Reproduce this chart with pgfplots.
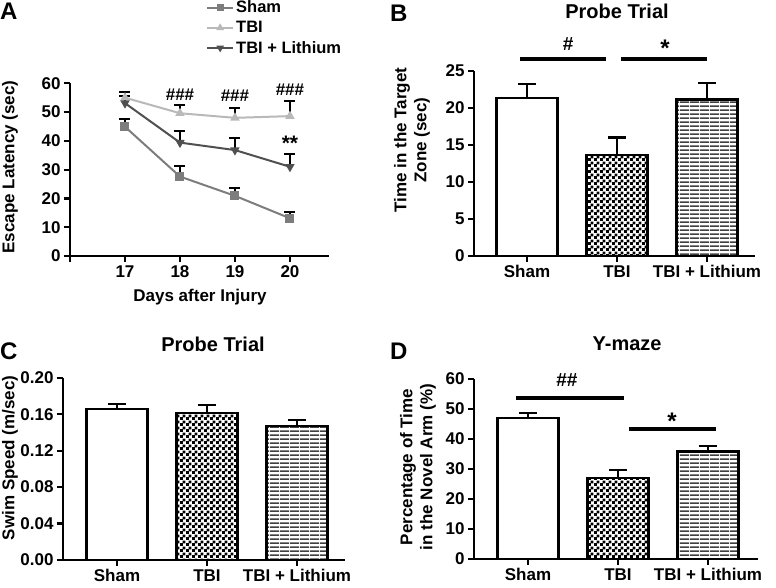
\documentclass[border=0pt]{standalone}
\usepackage{fontspec}
\setmainfont{Liberation Sans}
\usepackage{pgfplots}
\pgfplotsset{compat=1.18}
\usetikzlibrary{patterns}
\pgfdeclarepatternformonly{checker}{\pgfpointorigin}{\pgfqpoint{6pt}{6pt}}{\pgfqpoint{6pt}{6pt}}{%
  \pgfpathrectangle{\pgfpointorigin}{\pgfqpoint{3.3pt}{3.3pt}}%
  \pgfpathrectangle{\pgfqpoint{3pt}{3pt}}{\pgfqpoint{3.3pt}{3.3pt}}%
  \pgfusepath{fill}}
\pgfdeclarepatternformonly{hlines}{\pgfpointorigin}{\pgfqpoint{10pt}{4pt}}{\pgfqpoint{10pt}{4pt}}{%
  \pgfpathrectangle{\pgfpointorigin}{\pgfqpoint{10pt}{2pt}}%
  \pgfusepath{fill}}
\definecolor{shamc}{RGB}{125,125,125}
\definecolor{tbic}{RGB}{185,185,185}
\definecolor{lic}{RGB}{80,80,80}
\pgfplotsset{
  panel/.style={
    scale only axis,
    axis lines*=left,
    axis line style={line width=2.3pt},
    every tick/.style={line width=2.2pt, black},
    major tick length=6pt,
    tick align=outside,
    enlargelimits=false,
    tick label style={font=\fontsize{17}{19}\selectfont\bfseries},
    /pgf/number format/assume math mode=true,
    label style={font=\fontsize{17}{20}\selectfont\bfseries},
    title style={font=\fontsize{20}{22}\selectfont\bfseries},
    clip=false,
  },
  barpanel/.style={
    panel,
    xtick={0,1,2},
    xticklabels={Sham,TBI,TBI + Lithium},
    ybar, bar width=0.68, bar shift=0pt,
  },
  bars/.style={draw=black, line width=2.3pt,
    error bars/y dir=plus, error bars/y explicit,
    error bars/error bar style={line width=2.2pt, black},
    error bars/error mark options={rotate=90, line width=2.2pt, black, mark size=9pt}},
  lineplot/.style={line width=2pt, mark size=3.5pt,
    error bars/y dir=plus, error bars/y explicit,
    error bars/error bar style={line width=2pt, black, solid},
    error bars/error mark options={rotate=90, line width=2pt, black, mark size=5.5pt}},
}
\newcommand{\sig}{\fontsize{17}{19}\selectfont\bfseries}
\newcommand{\bigstar}{\fontsize{24}{24}\selectfont\bfseries}
\begin{document}
\begin{tikzpicture}
\path[use as bounding box] (0pt,0pt) rectangle (776pt,587pt);
% Panel letters
\node[anchor=north west, inner sep=0pt, font=\fontsize{24}{26}\selectfont\bfseries] at (0pt,584pt) {A};
\node[anchor=north west, inner sep=0pt, font=\fontsize{24}{26}\selectfont\bfseries] at (390pt,582pt) {B};
\node[anchor=north west, inner sep=0pt, font=\fontsize{24}{26}\selectfont\bfseries] at (0pt,244pt) {C};
\node[anchor=north west, inner sep=0pt, font=\fontsize{24}{26}\selectfont\bfseries] at (390pt,244pt) {D};

% Panel A
\begin{axis}[panel,
  at={(70pt,331pt)}, anchor=south west,
  width=259pt, height=172.7pt,
  xmin=16, xmax=20.71, ymin=0, ymax=60,
  xtick={16,17,18,19,20}, xticklabels={,17,18,19,20},
  ytick={0,10,...,60},
  ylabel={Escape Latency (sec)},
  ylabel style={at={(axis description cs:-0.232,0.515)}, anchor=center},
  xlabel={Days after Injury},
  xlabel style={at={(axis description cs:0.502,-0.237)}, anchor=center},
  legend style={at={(axis description cs:0.525,1.49)}, anchor=north west, draw=none, fill=none,
    font=\fontsize{16.5}{18}\selectfont\bfseries,
    nodes={font=\fontsize{16.5}{18}\selectfont\bfseries},
    row sep=3pt, inner sep=0pt},
  legend cell align=left,
  legend image code/.code={\draw[mark repeat=2,mark phase=2,#1,mark size=2.5pt] plot coordinates {(0pt,0pt) (13pt,0pt) (26pt,0pt)};},
]
\addplot[lineplot, shamc, mark=square*] coordinates {
  (17,44.9) +- (0,2.6) (18,27.6) +- (0,3.8) (19,20.9) +- (0,2.8) (20,13.1) +- (0,2.3)};
\addplot[lineplot, tbic, mark=triangle*] coordinates {
  (17,55.0) +- (0,2.1) (18,49.6) +- (0,2.9) (19,48.0) +- (0,3.5) (20,48.6) +- (0,5.3)};
\addplot[lineplot, lic, mark=triangle*, mark options={rotate=180}] coordinates {
  (17,53.1) +- (0,2.5) (18,39.4) +- (0,4.0) (19,36.8) +- (0,4.3) (20,31.0) +- (0,4.3)};
\legend{Sham,TBI,TBI + Lithium}
\node[font=\sig] at (axis cs:18,56.2) {\#\#\#};
\node[font=\sig] at (axis cs:19,55.7) {\#\#\#};
\node[font=\sig] at (axis cs:20,57.6) {\#\#\#};
\node[font=\fontsize{21}{21}\selectfont\bfseries] at (axis cs:20,39.0) {**};
\end{axis}

% Panel B
\begin{axis}[barpanel,
  at={(474pt,331pt)}, anchor=south west,
  width=281pt, height=185.3pt,
  xmin=-0.589, xmax=2.533, ymin=0, ymax=25,
  ytick={0,5,...,25},
  ylabel={Time in the Target\\Zone (sec)},
  ylabel style={at={(axis description cs:-0.221,0.626)}, anchor=center, align=center},
  title={Probe Trial},
  title style={at={(axis description cs:0.509,1.29)}, anchor=center},
]
\addplot[bars, fill=white] coordinates {(0,21.27) +- (0,1.89)};
\addplot[bars, pattern=checker, pattern color=black] coordinates {(1,13.58) +- (0,2.42)};
\addplot[bars, pattern=hlines, pattern color=black!75] coordinates {(2,21.13) +- (0,2.16)};
\draw[line width=3.8pt] (axis cs:-0.078,26.6) -- (axis cs:0.878,26.6);
\draw[line width=3.8pt] (axis cs:1.044,26.6) -- (axis cs:2.0,26.6);
\node[font=\fontsize{19}{19}\selectfont\bfseries] at (axis cs:0.456,28.6) {\#};
\node[font=\bigstar] at (axis cs:1.533,28.0) {*};
\end{axis}

% Panel C
\begin{axis}[barpanel,
  at={(63pt,27pt)}, anchor=south west,
  width=282pt, height=182.3pt,
  xmin=-0.6, xmax=2.533, ymin=0, ymax=0.2,
  ytick={0,0.04,0.08,0.12,0.16,0.2},
  yticklabel style={/pgf/number format/.cd, fixed, fixed zerofill, precision=2},
  ylabel={Swim Speed (m/sec)},
  ylabel style={at={(axis description cs:-0.188,0.56)}, anchor=center},
  title={Probe Trial},
  title style={at={(axis description cs:0.532,1.152)}, anchor=center},
]
\addplot[bars, fill=white] coordinates {(0,0.1656) +- (0,0.0055)};
\addplot[bars, pattern=checker, pattern color=black] coordinates {(1,0.1609) +- (0,0.0088)};
\addplot[bars, pattern=hlines, pattern color=black!75] coordinates {(2,0.1470) +- (0,0.0062)};
\end{axis}

% Panel D
\begin{axis}[barpanel,
  at={(474pt,28pt)}, anchor=south west,
  width=284pt, height=180pt,
  xmin=-0.6, xmax=2.556, ymin=0, ymax=60,
  ytick={0,10,...,60},
  ylabel={Percentage of Time\\in the Novel Arm (\%)},
  ylabel style={at={(axis description cs:-0.197,0.511)}, anchor=center, align=center},
  title={Y-maze},
  title style={at={(axis description cs:0.539,1.161)}, anchor=center},
]
\addplot[bars, fill=white] coordinates {(0,46.9) +- (0,1.8)};
\addplot[bars, pattern=checker, pattern color=black] coordinates {(1,27.0) +- (0,2.6)};
\addplot[bars, pattern=hlines, pattern color=black!75] coordinates {(2,35.8) +- (0,1.8)};
\draw[line width=3.8pt] (axis cs:-0.133,53.8) -- (axis cs:1.067,53.8);
\draw[line width=3.8pt] (axis cs:1.122,43.3) -- (axis cs:2.089,43.3);
\node[font=\fontsize{19}{19}\selectfont\bfseries] at (axis cs:0.433,59.7) {\#\#};
\node[font=\bigstar] at (axis cs:1.6,46.0) {*};
\end{axis}
\end{tikzpicture}
\end{document}
